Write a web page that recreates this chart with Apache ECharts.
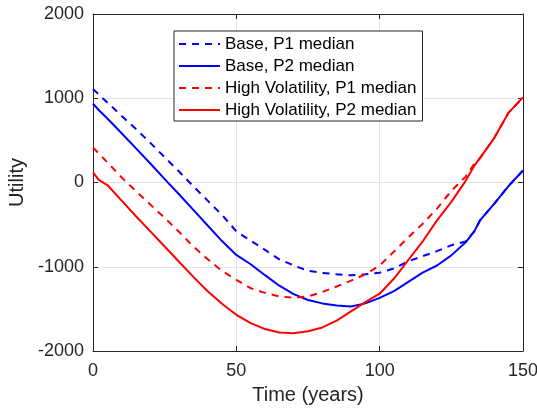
<!DOCTYPE html>
<html>
<head>
<meta charset="utf-8">
<script src="https://cdn.jsdelivr.net/npm/echarts@6/dist/echarts.min.js"></script>
<style>html,body{margin:0;padding:0;background:#fff;}#c{width:537px;height:411px;}</style>
</head>
<body>
<div id="c"></div>
<script>
var years = [0, 2, 5, 10, 15, 20, 25, 30, 35, 40, 45, 50, 55, 60, 65, 70, 75, 80, 85, 90, 95, 100, 105, 110, 115, 120, 125, 130, 133, 135, 140, 145, 150];
var baseP1 = [1110, 1045, 950, 790, 635, 470, 300, 130, -45, -215, -385, -580, -690, -800, -912, -985, -1048, -1073, -1090, -1102, -1090, -1070, -1020, -935, -875, -815, -745, -700, -580, -450, -250, -40, 143];
var baseP2 = [935, 860, 760, 585, 405, 225, 40, -140, -325, -510, -695, -860, -970, -1100, -1225, -1325, -1395, -1435, -1460, -1473, -1435, -1370, -1290, -1180, -1070, -985, -865, -710, -580, -450, -250, -40, 143];
var hvP1 = [415, 345, 240, 60, -103, -262, -420, -585, -760, -910, -1050, -1155, -1255, -1310, -1352, -1368, -1352, -1300, -1235, -1165, -1090, -985, -820, -650, -490, -310, -100, 70, 220, 290, 530, 830, 1010];
var hvP2 = [120, 30, -30, -215, -400, -580, -760, -940, -1120, -1290, -1440, -1570, -1670, -1740, -1780, -1790, -1765, -1720, -1640, -1530, -1420, -1320, -1140, -920, -700, -450, -230, 20, 200, 290, 530, 830, 1010];
var seriesNames = ['Base, P1 median', 'Base, P2 median', 'High Volatility, P1 median', 'High Volatility, P2 median'];
var xTicks = [0, 50, 100, 150];
var yTicks = [-2000, -1000, 0, 1000, 2000];

function pairs(vals) { return years.map(function (t, i) { return [t, vals[i]]; }); }
var FONT = 'Liberation Sans, Arial, Helvetica, sans-serif';
var AX = '#262626';
var chart = echarts.init(document.getElementById('c'));
function mkSeries(name, vals, color, dashed) {
  return {
    name: name, type: 'line', data: pairs(vals), symbol: 'none', showSymbol: false,
    lineStyle: { color: color, width: 2, type: dashed ? [7, 6] : 'solid' },
    itemStyle: { color: color }, animation: false
  };
}
function axBase() {
  return {
    axisLine: { show: true, onZero: false, lineStyle: { color: AX, width: 1 } },
    axisTick: { show: true, inside: true, length: 5, lineStyle: { color: AX } }
  };
}
function plain(v) { return String(v); }
chart.setOption({
  animation: false,
  grid: { left: 93, right: 14, top: 14, bottom: 60, containLabel: false, outerBoundsMode: 'none' },
  legend: {
    orient: 'vertical', left: 174, top: 31,
    itemWidth: 41, itemHeight: 14, itemGap: 0,
    padding: [2, 6, 0, 4],
    backgroundColor: '#fff', borderColor: AX, borderWidth: 1, borderRadius: 0,
    itemStyle: { color: 'rgba(0,0,0,0)', borderWidth: 0, opacity: 0 },
    textStyle: { fontFamily: FONT, fontSize: 17, color: '#000', lineHeight: 22 },
    data: seriesNames
  },
  xAxis: [
    Object.assign(axBase(), {
      type: 'value', min: xTicks[0], max: xTicks[xTicks.length - 1], interval: 50, position: 'bottom',
      name: 'Time (years)', nameLocation: 'middle', nameGap: 34,
      nameTextStyle: { fontFamily: FONT, fontSize: 20, color: AX },
      axisLabel: { fontFamily: FONT, fontSize: 18, color: AX, margin: 11, formatter: plain },
      splitLine: { show: true, lineStyle: { color: '#e3e3e3', width: 1 } }
    }),
    Object.assign(axBase(), {
      type: 'value', min: xTicks[0], max: xTicks[xTicks.length - 1], interval: 50, position: 'top',
      axisLabel: { show: false }, splitLine: { show: false }
    })
  ],
  yAxis: [
    Object.assign(axBase(), {
      type: 'value', min: yTicks[0], max: yTicks[yTicks.length - 1], interval: 1000, position: 'left',
      name: 'Utility', nameLocation: 'middle', nameGap: 57,
      nameTextStyle: { fontFamily: FONT, fontSize: 20, color: AX },
      axisLabel: { fontFamily: FONT, fontSize: 18, color: AX, margin: 9, formatter: plain },
      splitLine: { show: true, lineStyle: { color: '#e3e3e3', width: 1 } }
    }),
    Object.assign(axBase(), {
      type: 'value', min: yTicks[0], max: yTicks[yTicks.length - 1], interval: 1000, position: 'right',
      axisLabel: { show: false }, splitLine: { show: false }
    })
  ],
  series: [
    mkSeries(seriesNames[0], baseP1, '#0000ff', true),
    mkSeries(seriesNames[1], baseP2, '#0000ff', false),
    mkSeries(seriesNames[2], hvP1, '#ff0000', true),
    mkSeries(seriesNames[3], hvP2, '#ff0000', false)
  ]
});
</script>
</body>
</html>
